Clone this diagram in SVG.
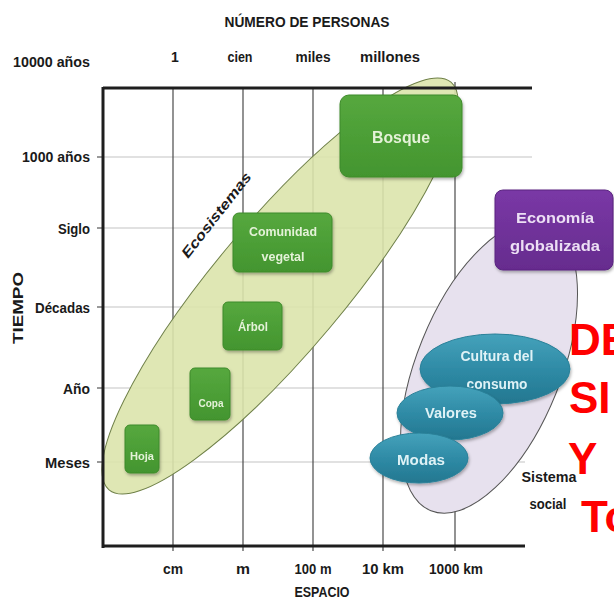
<svg xmlns="http://www.w3.org/2000/svg" width="614" height="601" viewBox="0 0 614 601">
<style>
.lbl{font-family:"Liberation Sans Narrow","Liberation Sans",Arial,sans-serif;font-weight:bold;fill:#1a1a1a;font-size:14px}
.grid{stroke:#c4c4c4;stroke-width:1.2}
.vgrid{stroke:#4a4a4a;stroke-width:1.2}
.axis{stroke:#1e1e1e;stroke-width:3;fill:none}
.gnode{fill:url(#gGreen);stroke:#3d8a2a;stroke-width:1}
.gtxt{font-family:"Liberation Sans Narrow","Liberation Sans",Arial,sans-serif;font-weight:bold;fill:#e4f2d8;text-anchor:middle;dominant-baseline:central}
.teal{fill:url(#gTeal);stroke:#2a8199;stroke-width:1}
.ttxt{font-family:"Liberation Sans Narrow","Liberation Sans",Arial,sans-serif;font-weight:bold;fill:#dff2f6;text-anchor:middle;dominant-baseline:central;font-size:14px}
.red{font-family:"Liberation Sans",Arial,sans-serif;font-weight:bold;fill:#ff0000;font-size:44px}
</style>
<defs>
<linearGradient id="gGreen" x1="0" y1="0" x2="0" y2="1">
<stop offset="0" stop-color="#56a83e"/><stop offset="1" stop-color="#43952f"/>
</linearGradient>
<linearGradient id="gTeal" x1="0" y1="0" x2="0" y2="1">
<stop offset="0" stop-color="#45a2bb"/><stop offset="0.5" stop-color="#2f8ba6"/><stop offset="1" stop-color="#237790"/>
</linearGradient>
<linearGradient id="gPurple" x1="0" y1="0" x2="0" y2="1">
<stop offset="0" stop-color="#7a38a6"/><stop offset="1" stop-color="#662c8e"/>
</linearGradient>
<filter id="sh" x="-20%" y="-20%" width="140%" height="140%">
<feDropShadow dx="1" dy="2" stdDeviation="1.5" flood-color="#000" flood-opacity="0.3"/>
</filter>
</defs>
<rect width="614" height="601" fill="#ffffff"/>

<g id="grid">
<line class="grid" x1="103" y1="157" x2="532" y2="157"/>
<line class="grid" x1="103" y1="228" x2="525" y2="228"/>
<line class="grid" x1="103" y1="307" x2="525" y2="307"/>
<line class="grid" x1="103" y1="388" x2="525" y2="388"/>
<line class="grid" x1="103" y1="462" x2="525" y2="462"/>
<line class="vgrid" x1="173" y1="88" x2="173" y2="551"/>
<line class="vgrid" x1="243" y1="88" x2="243" y2="551"/>
<line class="vgrid" x1="313" y1="88" x2="313" y2="551"/>
<line class="vgrid" x1="383" y1="88" x2="383" y2="551"/>
<line class="vgrid" x1="455" y1="82" x2="455" y2="551"/>
<g stroke="#555" stroke-width="1.2">
<line x1="97" y1="157" x2="103" y2="157"/>
<line x1="97" y1="228" x2="103" y2="228"/>
<line x1="97" y1="307" x2="103" y2="307"/>
<line x1="97" y1="388" x2="103" y2="388"/>
<line x1="97" y1="462" x2="103" y2="462"/>
</g>
</g>

<g id="ecosistemas">
<ellipse cx="280" cy="286" rx="266" ry="65" transform="rotate(-50 280 286)" fill="#dbe4ac" fill-opacity="0.9" stroke="#6f8048" stroke-width="1"/>
<text class="lbl" x="216" y="215" font-size="13" font-style="italic" text-anchor="middle" dominant-baseline="central" transform="rotate(-52 216 215)" textLength="104" lengthAdjust="spacingAndGlyphs">Ecosistemas</text>
</g>

<g id="sistema-social">
<ellipse cx="489" cy="367" rx="155" ry="72" transform="rotate(-68 489 367)" fill="#e7e1ee" stroke="#555" stroke-width="1"/>
<text class="lbl" x="549" y="477" font-size="13" text-anchor="middle" dominant-baseline="central" textLength="55" lengthAdjust="spacingAndGlyphs">Sistema</text>
<text class="lbl" x="548" y="504" font-size="13" text-anchor="middle" dominant-baseline="central" textLength="37" lengthAdjust="spacingAndGlyphs">social</text>
</g>

<g id="axes">
<line class="axis" x1="103" y1="88" x2="532" y2="88" stroke-width="2.5"/>
<line class="axis" x1="103" y1="87" x2="103" y2="548"/>
<line class="axis" x1="102" y1="546" x2="525" y2="546" stroke-width="3.5"/>
</g>

<g id="labels">
<text class="lbl" x="307" y="22" text-anchor="middle" dominant-baseline="central" textLength="165" lengthAdjust="spacingAndGlyphs">NÚMERO DE PERSONAS</text>
<text class="lbl" x="90" y="62" text-anchor="end" dominant-baseline="central" textLength="77" lengthAdjust="spacingAndGlyphs">10000 años</text>
<text class="lbl" x="175" y="57" text-anchor="middle" dominant-baseline="central">1</text>
<text class="lbl" x="240" y="57" text-anchor="middle" dominant-baseline="central" textLength="25" lengthAdjust="spacingAndGlyphs">cien</text>
<text class="lbl" x="313" y="57" text-anchor="middle" dominant-baseline="central" textLength="35" lengthAdjust="spacingAndGlyphs">miles</text>
<text class="lbl" x="390" y="57" text-anchor="middle" dominant-baseline="central" textLength="60" lengthAdjust="spacingAndGlyphs">millones</text>
<text class="lbl" x="90" y="157" text-anchor="end" dominant-baseline="central" textLength="68" lengthAdjust="spacingAndGlyphs">1000 años</text>
<text class="lbl" x="90" y="229" text-anchor="end" dominant-baseline="central" textLength="32" lengthAdjust="spacingAndGlyphs">Siglo</text>
<text class="lbl" x="90" y="308" text-anchor="end" dominant-baseline="central" textLength="55" lengthAdjust="spacingAndGlyphs">Décadas</text>
<text class="lbl" x="90" y="389" text-anchor="end" dominant-baseline="central" textLength="27" lengthAdjust="spacingAndGlyphs">Año</text>
<text class="lbl" x="90" y="463" text-anchor="end" dominant-baseline="central" textLength="45" lengthAdjust="spacingAndGlyphs">Meses</text>
<text class="lbl" x="18" y="308" font-size="13" text-anchor="middle" dominant-baseline="central" transform="rotate(-90 18 308)" textLength="72" lengthAdjust="spacingAndGlyphs">TIEMPO</text>
<text class="lbl" x="173" y="569" text-anchor="middle" dominant-baseline="central" textLength="20" lengthAdjust="spacingAndGlyphs">cm</text>
<text class="lbl" x="243" y="569" text-anchor="middle" dominant-baseline="central" textLength="14" lengthAdjust="spacingAndGlyphs">m</text>
<text class="lbl" x="313" y="569" text-anchor="middle" dominant-baseline="central" textLength="37" lengthAdjust="spacingAndGlyphs">100 m</text>
<text class="lbl" x="383" y="569" text-anchor="middle" dominant-baseline="central" textLength="42" lengthAdjust="spacingAndGlyphs">10 km</text>
<text class="lbl" x="456" y="569" text-anchor="middle" dominant-baseline="central" textLength="54" lengthAdjust="spacingAndGlyphs">1000 km</text>
<text class="lbl" x="322" y="592" text-anchor="middle" dominant-baseline="central" textLength="55" lengthAdjust="spacingAndGlyphs">ESPACIO</text>
</g>

<g id="bosque" filter="url(#sh)">
<rect class="gnode" x="340" y="95" width="122" height="82" rx="9"/>
<text class="gtxt" x="401" y="137" font-size="17" textLength="58" lengthAdjust="spacingAndGlyphs">Bosque</text>
</g>
<g id="comunidad-vegetal" filter="url(#sh)">
<rect class="gnode" x="233" y="213" width="99" height="59" rx="6"/>
<text class="gtxt" x="283" y="231" font-size="13" textLength="68" lengthAdjust="spacingAndGlyphs">Comunidad</text>
<text class="gtxt" x="283" y="256" font-size="13" textLength="43" lengthAdjust="spacingAndGlyphs">vegetal</text>
</g>
<g id="arbol" filter="url(#sh)">
<rect class="gnode" x="223" y="302" width="59" height="48" rx="5"/>
<text class="gtxt" x="253" y="327" font-size="12" textLength="30" lengthAdjust="spacingAndGlyphs">Árbol</text>
</g>
<g id="copa" filter="url(#sh)">
<rect class="gnode" x="190" y="368" width="40" height="52" rx="5"/>
<text class="gtxt" x="211" y="403" font-size="10" textLength="25" lengthAdjust="spacingAndGlyphs">Copa</text>
</g>
<g id="hoja" filter="url(#sh)">
<rect class="gnode" x="125" y="425" width="34" height="48" rx="5"/>
<text class="gtxt" x="142" y="456" font-size="10" textLength="24" lengthAdjust="spacingAndGlyphs">Hoja</text>
</g>

<g id="economia-globalizada" filter="url(#sh)">
<rect x="495" y="190" width="118" height="80" rx="8" fill="url(#gPurple)" stroke="#5a2580" stroke-width="1"/>
<text class="gtxt" x="555" y="217" font-size="15" fill="#ecdff4" style="fill:#ecdff4" textLength="78" lengthAdjust="spacingAndGlyphs">Economía</text>
<text class="gtxt" x="555" y="245" font-size="15" style="fill:#ecdff4" textLength="90" lengthAdjust="spacingAndGlyphs">globalizada</text>
</g>

<g id="cultura-del-consumo" filter="url(#sh)">
<ellipse class="teal" cx="495" cy="369" rx="75" ry="35"/>
<text class="ttxt" x="497" y="356" font-size="13" textLength="73" lengthAdjust="spacingAndGlyphs">Cultura del</text>
<text class="ttxt" x="497" y="384" font-size="13" textLength="61" lengthAdjust="spacingAndGlyphs">consumo</text>
</g>
<g id="valores" filter="url(#sh)">
<ellipse class="teal" cx="450" cy="413" rx="53" ry="27"/>
<text class="ttxt" x="451" y="413" textLength="52" lengthAdjust="spacingAndGlyphs">Valores</text>
</g>
<g id="modas" filter="url(#sh)">
<ellipse class="teal" cx="419" cy="458" rx="49" ry="25"/>
<text class="ttxt" x="421" y="460" textLength="48" lengthAdjust="spacingAndGlyphs">Modas</text>
</g>

<g id="overlay-text">
<text class="red" x="569" y="355">DE</text>
<text class="red" x="569" y="413">SI</text>
<text class="red" x="568" y="474">Y</text>
<text class="red" x="581" y="532">To</text>
</g>
</svg>
